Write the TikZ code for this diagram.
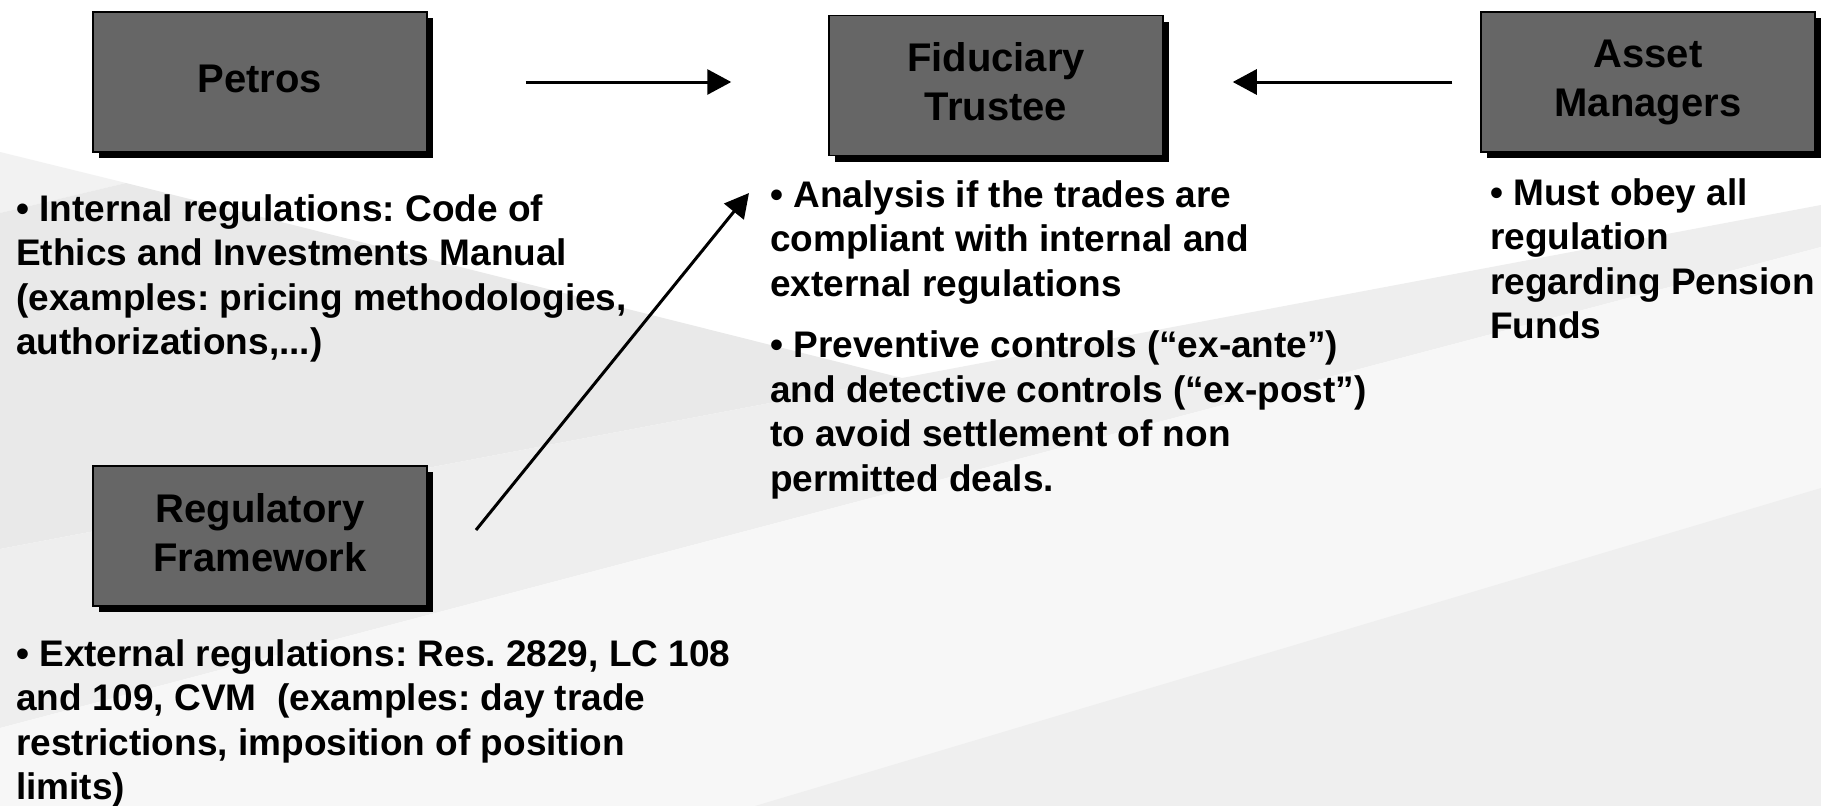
\documentclass[tikz,border=0pt]{standalone}
\usepackage{fontspec}
\setmainfont{Liberation Sans}
\usetikzlibrary{arrows.meta,shadows}
\frenchspacing
\begin{document}
\begin{tikzpicture}[x=1pt,y=-1pt,
  box/.style={draw=black,line width=1.5pt,fill=boxgrey,minimum width=334pt,minimum height=140pt,
    inner sep=0pt,align=center,text depth=7pt,font=\fontsize{40pt}{49pt}\selectfont\bfseries,
    drop shadow={shadow xshift=6pt,shadow yshift=-6pt,fill=black,opacity=1}},
  body/.style={anchor=north west,inner sep=0pt,align=left,font=\fontsize{37pt}{44.5pt}\selectfont\bfseries},
  arr/.style={line width=3pt,-{Triangle[length=24pt,width=25pt]}}]
\definecolor{boxgrey}{HTML}{666666}
\definecolor{bgA}{HTML}{E9E9E9}
\definecolor{bgL}{HTML}{F2F2F2}
\definecolor{bgB}{HTML}{EEEEEE}
\definecolor{bgC}{HTML}{F7F7F7}
\definecolor{bgD}{HTML}{EFEFEF}
\useasboundingbox (0,0) rectangle (1821,806);
\fill[white] (0,0) rectangle (1821,806);
% background shapes
\fill[bgL] (0,152) -- (126,183) -- (0,213) -- cycle;
\fill[bgA] (0,213) -- (126,183) -- (902,378) -- (0,549) -- cycle;
\fill[bgB] (0,549) -- (902,378) -- (1821,205) -- (1821,247) -- (0,728) -- cycle;
\fill[bgC] (0,728) -- (1821,247) -- (1821,806) -- (0,806) -- cycle;
\fill[bgD] (755,806) -- (1821,488) -- (1821,806) -- cycle;
% boxes
\node[box] (petros) at (260,82) {Petros};
\node[box] (fid) at (996,85.5) {Fiduciary\\Trustee};
\node[box] (asset) at (1648,82) {Asset\\Managers};
\node[box] (reg) at (260,536) {Regulatory\\Framework};
% texts
\node[body] (pettxt) at (16,194) {• Internal regulations: Code of\\Ethics and Investments Manual\\(examples: pricing methodologies,\\authorizations,...)};
\node[body] (fidtxt) at (770,180) {• Analysis if the trades are\\compliant with internal and\\external regulations\\[17pt]• Preventive controls (“ex-ante”)\\and detective controls (“ex-post”)\\to avoid settlement of non\\permitted deals.};
\node[body] (asstxt) at (1490,178) {• Must obey all\\regulation\\regarding Pension\\Funds};
\node[body] (regtxt) at (16,639) {• External regulations: Res. 2829, LC 108\\and 109, CVM \ (examples: day trade\\restrictions, imposition of position\\limits)};
% connectors
\coordinate (regout) at (476,530);
\coordinate (fidin) at (749,193);
\draw[arr,shorten <=98pt,shorten >=97pt] (petros.east) -- (petros.east -| fid.west);
\draw[arr,shorten <=28pt,shorten >=69pt] (asset.west) -- (asset.west -| fid.east);
\draw[arr] (regout) -- (fidin);
\end{tikzpicture}
\end{document}
